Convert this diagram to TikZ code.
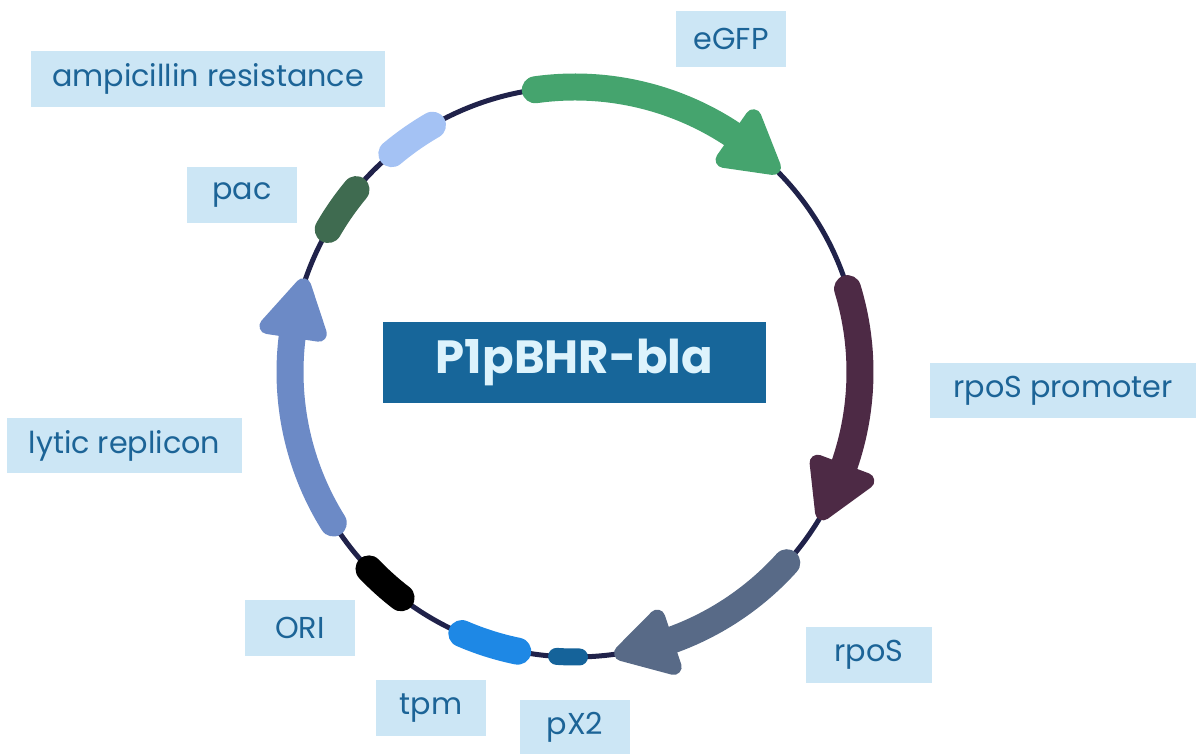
\documentclass[tikz,border=0pt]{standalone}
\usepackage{fontspec}
\setmainfont{Poppins}
\usetikzlibrary{calc}

\definecolor{backbone}{HTML}{20224A}
\definecolor{egfpcol}{HTML}{45A46E}
\definecolor{ampcol}{HTML}{A4C2F4}
\definecolor{paccol}{HTML}{3F6B50}
\definecolor{lyticcol}{HTML}{6C8AC6}
\definecolor{tpmcol}{HTML}{1E88E5}
\definecolor{pxcol}{HTML}{15639A}
\definecolor{rposcol}{HTML}{586A87}
\definecolor{promcol}{HTML}{4D2A45}
\definecolor{lblfill}{HTML}{CCE6F5}
\definecolor{lbltext}{HTML}{1C6497}
\definecolor{titlefill}{HTML}{17669A}
\definecolor{titletext}{HTML}{DDF3FC}

\tikzset{
  lbl/.style={fill=lblfill, text=lbltext, font=\fontsize{17.2}{19}\selectfont,
    minimum width=2.2cm, minimum height=1.12cm, inner sep=0pt},
  titlebox/.style={fill=titlefill, text=titletext, font=\fontsize{26.5}{30}\selectfont\bfseries,
    minimum width=7.66cm, minimum height=1.62cm, inner sep=0pt},
  feat/.style={line width=0.54cm, line cap=round},
  head/.style={line width=0.32cm, line join=round},
}

\begin{document}
\begin{tikzpicture}[x=0.02cm, y=0.02cm]
  \def\r{285}   % plasmid radius
  \def\hw{26}   % half width of arrow heads
  \def\hl{9}    % head length, degrees
  %
  \useasboundingbox (0,0) rectangle (1196,754);
  \coordinate (c) at (575,382);
  \draw[backbone, line width=0.1cm] (c) circle[radius=\r];   % backbone
  %
  % eGFP
  \draw[feat, egfpcol] ($(c)+(98:\r)$) arc[start angle=98, end angle=46+\hl, radius=\r];
  \filldraw[head, egfpcol] ($(c)+(46:\r)$) -- ($(c)+(46+\hl:\r+\hw)$) -- ($(c)+(46+\hl:\r-\hw)$) -- cycle;
  %
  % rpoS promoter
  \draw[feat, promcol] ($(c)+(17:\r)$) arc[start angle=17, end angle=-29.5+\hl, radius=\r];
  \filldraw[head, promcol] ($(c)+(-29.5:\r)$) -- ($(c)+(-29.5+\hl:\r+\hw)$) -- ($(c)+(-29.5+\hl:\r-\hw)$) -- cycle;
  %
  % rpoS
  \draw[feat, rposcol] ($(c)+(-42:\r)$) arc[start angle=-42, end angle=-80.5+\hl, radius=\r];
  \filldraw[head, rposcol] ($(c)+(-80.5:\r)$) -- ($(c)+(-80.5+\hl:\r+\hw)$) -- ($(c)+(-80.5+\hl:\r-\hw)$) -- cycle;
  %
  % lytic replicon
  \draw[feat, lyticcol] ($(c)+(212:\r)$) arc[start angle=212, end angle=162.5+\hl, radius=\r];
  \filldraw[head, lyticcol] ($(c)+(162.5:\r)$) -- ($(c)+(162.5+\hl:\r+\hw)$) -- ($(c)+(162.5+\hl:\r-\hw)$) -- cycle;
  %
  % small blocks
  \draw[feat, ampcol] ($(c)+(130:\r)$) arc[start angle=130, end angle=120, radius=\r];      % ampicillin resistance
  \draw[feat, paccol] ($(c)+(150:\r)$) arc[start angle=150, end angle=140.2, radius=\r];    % pac
  \draw[feat, black] ($(c)+(232.4:\r)$) arc[start angle=232.4, end angle=223.7, radius=\r]; % ORI
  \draw[feat, tpmcol] ($(c)+(258.4:\r)$) arc[start angle=258.4, end angle=246.6, radius=\r]; % tpm
  \draw[feat, pxcol, line width=0.34cm] ($(c)+(270.9:\r)$) arc[start angle=270.9, end angle=266.3, radius=\r]; % pX2
  %
  % labels
  \node[lbl, minimum width=7.08cm] (ampLbl) at (208,675) {ampicillin resistance};
  \node[lbl] (pacLbl) at (242,559) {pac};
  \node[lbl] (egfpLbl) at (731,715) {eGFP};
  \node[lbl, minimum width=4.7cm] (lyticLbl) at (124.5,308.5) {lytic replicon};
  \node[lbl, minimum width=5.32cm] (promLbl) at (1063,363.5) {rpoS promoter};
  \node[lbl, minimum width=2.52cm] (rposLbl) at (869,99) {rpoS};
  \node[lbl] (oriLbl) at (300,126) {ORI};
  \node[lbl] (tpmLbl) at (431,46) {tpm};
  \node[lbl, minimum height=1.08cm] (pxLbl) at (575,27) {pX2};
  %
  \node[titlebox] (plasmid) at (574.5,391.5) {P1pBHR-bla};
\end{tikzpicture}
\end{document}
